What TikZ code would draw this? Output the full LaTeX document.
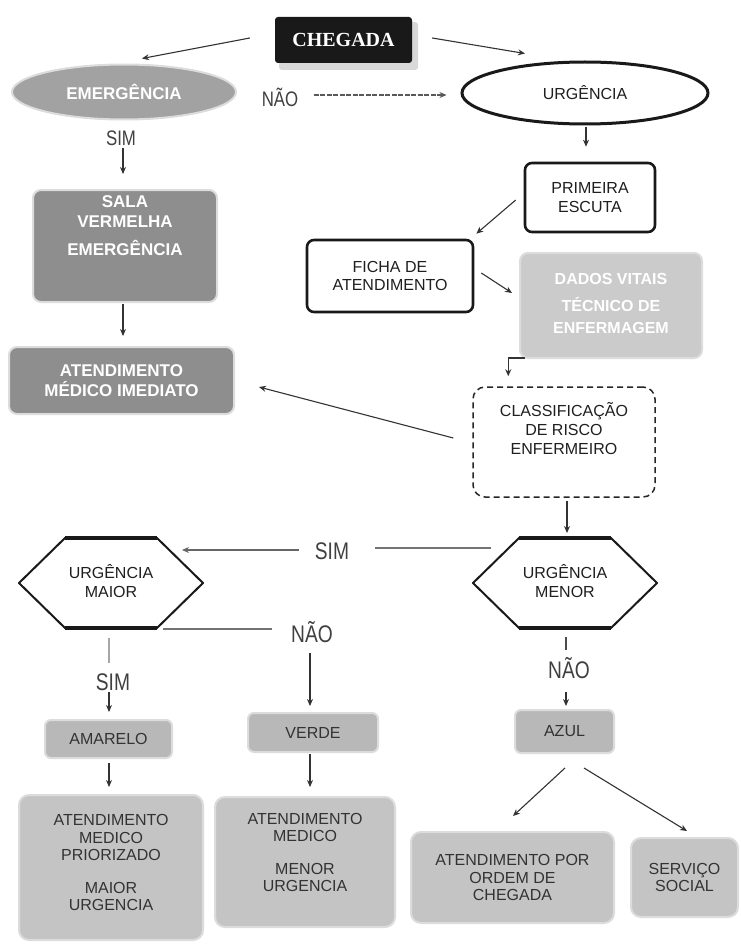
\documentclass[tikz,border=0pt]{standalone}
\usepackage{fontspec}
\setmainfont{Liberation Sans}
\newfontfamily\narrowf[FakeStretch=0.8]{Liberation Sans}
\newfontfamily\serifb{Liberation Serif}
\usetikzlibrary{shapes.geometric,arrows.meta,calc}
\definecolor{darkg}{HTML}{8E8E8E}
\definecolor{emerg}{HTML}{A2A2A2}
\definecolor{dadosg}{HTML}{CBCBCB}
\definecolor{midg}{HTML}{B8B8B8}
\definecolor{lightg}{HTML}{C4C4C4}
\definecolor{glow}{HTML}{DCDCDC}
\begin{document}
\begin{tikzpicture}[x=1pt,y=-1pt,
  txt/.style={font=\fontsize{16}{18.5}\selectfont, align=center, text=black!88, inner sep=0pt},
  btxt/.style={font=\fontsize{16}{17.5}\selectfont, align=center, text=black!80, inner sep=0pt},
  wtxt/.style={font=\bfseries\fontsize{17}{19.5}\selectfont, align=center, text=white, inner sep=0pt},
  lbl/.style={font=\narrowf\fontsize{21}{24}\selectfont, text=black!75, inner sep=0pt},
  lblb/.style={font=\narrowf\fontsize{24}{26}\selectfont, text=black!75, inner sep=0pt},
  wbox/.style={draw=black!90, line width=2.6pt, rounded corners=7pt, fill=white, inner sep=0pt, txt},
  gbox/.style={fill=darkg, draw=glow, line width=2pt, rounded corners=8pt, inner sep=0pt},
  dbox/.style={fill=dadosg, draw=glow, line width=2pt, rounded corners=8pt, inner sep=0pt},
  mbox/.style={fill=midg, draw=glow, line width=2pt, rounded corners=6pt, inner sep=0pt, btxt},
  lbox/.style={fill=lightg, draw=glow, line width=2pt, rounded corners=10pt, inner sep=0pt},
  arr/.style={-{Stealth[length=7pt,width=6pt]}, line width=1.1pt, draw=black!80},
  ln/.style={line width=1.5pt, draw=black!55},
  hexline/.style={line width=2pt, draw=black!90, fill=white, line join=round},
  hexthick/.style={line width=3.6pt, draw=black!90}
]
\useasboundingbox[fill=white] (0,0) rectangle (741,947);

% ---------- top ----------
\fill[gray!30, rounded corners=3pt] (279,22) rectangle (418,70);
\node[fill=black!90, rounded corners=3pt, minimum width=137pt, minimum height=46pt, inner sep=0pt,
      text=white, font=\serifb\bfseries\fontsize{20}{22}\selectfont] (cheg) at (343.5,40) {CHEGADA};

\node[ellipse, fill=emerg, draw=glow, line width=2pt, minimum width=224pt, minimum height=55pt,
      inner sep=0pt, wtxt] (emer) at (124,92) {EMERGÊNCIA};
\node[ellipse, draw=black!90, line width=3pt, fill=white, minimum width=246pt, minimum height=62pt,
      inner sep=0pt, txt] (urg) at (585,93) {URGÊNCIA};

\node[lbl] (nao1) at (280,97) {NÃO};
\node[lbl] (sim1) at (121,138) {SIM};

\draw[arr] ($(cheg.west)+(-25,-2)$) -- ($(emer.north)+(18,-5)$);
\draw[arr] ($(cheg.east)+(20,-2)$) -- ($(urg.north)+(-60,-7)$);
\draw[arr, dash pattern=on 5pt off 1.5pt, draw=black!65] ($(urg.west)+(-147,2)$) -- ($(urg.west)+(-14,2)$);

% ---------- left column ----------
\node[gbox, minimum width=184pt, minimum height=112pt] (sala) at (125,246) {};
\node[wtxt] (salat) at (125,226) {SALA\\VERMELHA\\[9pt]EMERGÊNCIA};
\node[gbox, wtxt, minimum width=225pt, minimum height=67pt] (atendI) at (121.5,380.5) {ATENDIMENTO\\MÉDICO IMEDIATO};

\coordinate (s1a) at (123,148);
\draw[arr] (s1a) -- ($(sala.north)+(-2,-15)$);
\draw[arr] ($(sala.south)+(-2,1)$) -- ($(atendI.north)+(1.5,-10)$);

% ---------- right column ----------
\node[wbox, minimum width=130pt, minimum height=69pt] (prim) at (590,197.5) {PRIMEIRA\\ESCUTA};
\node[wbox, minimum width=166pt, minimum height=72pt] (ficha) at (390,276) {FICHA DE\\ATENDIMENTO};
\node[dbox, minimum width=182pt, minimum height=105pt] (dados) at (611,305.5) {};
\node[font=\bfseries\fontsize{16}{22}\selectfont, align=center, text=white, inner sep=0pt] (dadost) at (611,303) {DADOS VITAIS\\[5pt]TÉCNICO DE\\ENFERMAGEM};
\node[draw=black!85, line width=1.5pt, dash pattern=on 6pt off 4pt, rounded corners=12pt, fill=white,
      minimum width=182pt, minimum height=110pt, inner sep=0pt] (classif) at (564,442) {};
\node[txt, font=\fontsize{16}{19}\selectfont] (classift) at (564,429) {CLASSIFICAÇÃO\\DE RISCO\\ENFERMEIRO};

\draw[arr] ($(urg.south)+(1,2)$) -- ($(prim.north)+(-4,-15)$);
\draw[arr] ($(prim.west)+(-8,2.5)$) -- ($(ficha.north east)+(2,-5)$);
\draw[arr] ($(ficha.east)+(7,-3)$) -- ($(dados.west)+(-7,-12.5)$);
\draw[arr, rounded corners=0pt] ($(dados.south west)+(6,-1)$) -| ($(classif.north west)+(36,-10)$);
\draw[arr] ($(classif.west)+(-19,-4)$) -- ($(atendI.east)+(24,6.5)$);

% ---------- hexagons ----------
\draw[hexline] (19,583) -- (65,538) -- (157,538) -- (203,583) -- (157,628) -- (65,628) -- cycle;
\draw[hexthick] (65,538) -- (157,538) (65,628) -- (157,628);
\coordinate (maiorTR) at (157,538);
\coordinate (maiorBR) at (157,628);
\coordinate (maiorB) at (109,628);
\node[txt] (maior) at (111,581) {URGÊNCIA\\MAIOR};

\draw[hexline] (473,583) -- (519,538) -- (611,538) -- (657,583) -- (611,628) -- (519,628) -- cycle;
\draw[hexthick] (519,538) -- (611,538) (519,628) -- (611,628);
\coordinate (menorTL) at (519,538);
\coordinate (menorB) at (566,628);
\node[txt] (menor) at (565,581) {URGÊNCIA\\MENOR};

\draw[arr] ($(classif.south)+(3,3)$) -- ($(menorB)+(1,-95)$);

\node[lblb] (sim2) at (332,551) {SIM};
\node[lblb] (nao2) at (312,632) {NÃO};
\node[lblb] (sim3) at (113,682) {SIM};
\node[lblb] (nao3) at (569,668) {NÃO};

\draw[ln] ($(menorTL)+(-28,10)$) -- ($(sim2.east)+(26,-3)$);
\draw[arr, draw=black!60] ($(sim2.west)+(-16,-1)$) -- ($(maiorTR)+(25,12)$);
\draw[ln] ($(maiorBR)+(6,1)$) -- ($(nao2.west)+(-19,-3)$);
\draw[line width=1.2pt, draw=black!35] ($(maiorB)+(0,10)$) -- ($(maiorB)+(0,35)$);
\draw[line width=1.2pt, draw=black!70] ($(menorB)+(0,9)$) -- ($(menorB)+(0,22)$);

% ---------- bottom ----------
\node[mbox, minimum width=127pt, minimum height=38pt] (amar) at (108.5,739) {AMARELO};
\node[mbox, minimum width=130pt, minimum height=39pt] (verde) at (313,732.5) {VERDE};
\node[mbox, minimum width=99pt, minimum height=43pt] (azul) at (564.5,731.5) {AZUL};

\coordinate (va) at (310,653);
\coordinate (sa) at (109,692);
\coordinate (na) at (566,692);
\draw[arr] (va) -- ($(verde.north)+(-3,-6)$);
\draw[arr] (sa) -- ($(amar.north)+(0.5,-7)$);
\draw[arr] (na) -- ($(azul.north)+(1.5,-3)$);

\node[lbox, minimum width=184pt, minimum height=145pt] (prior) at (111,867.5) {};
\node[btxt] (priort) at (111,862.5) {ATENDIMENTO\\MEDICO\\PRIORIZADO\\[15pt]MAIOR\\URGENCIA};
\node[lbox, minimum width=180pt, minimum height=130pt] (menorbox) at (305,862) {};
\node[btxt] (menorboxt) at (305,852.5) {ATENDIMENTO\\MEDICO\\[15pt]MENOR\\URGENCIA};
\node[lbox, btxt, minimum width=203pt, minimum height=91pt] (ordem) at (512.5,877.5) {ATENDIMENTO POR\\ORDEM DE\\CHEGADA};
\node[lbox, btxt, minimum width=107pt, minimum height=79pt] (servico) at (684.5,877.5) {SERVIÇO\\SOCIAL};

\draw[arr] ($(amar.south)+(0.5,4)$) -- ($(prior.north)+(-2,-7)$);
\draw[arr] ($(verde.south)+(-3,1)$) -- ($(menorbox.north)+(5,-9)$);
\draw[arr] ($(azul.south)+(0.5,14)$) -- ($(ordem.north)+(0.5,-15)$);
\draw[arr] ($(azul.south)+(19.5,14)$) -- ($(servico.north)+(2.5,-6)$);
\end{tikzpicture}
\end{document}
